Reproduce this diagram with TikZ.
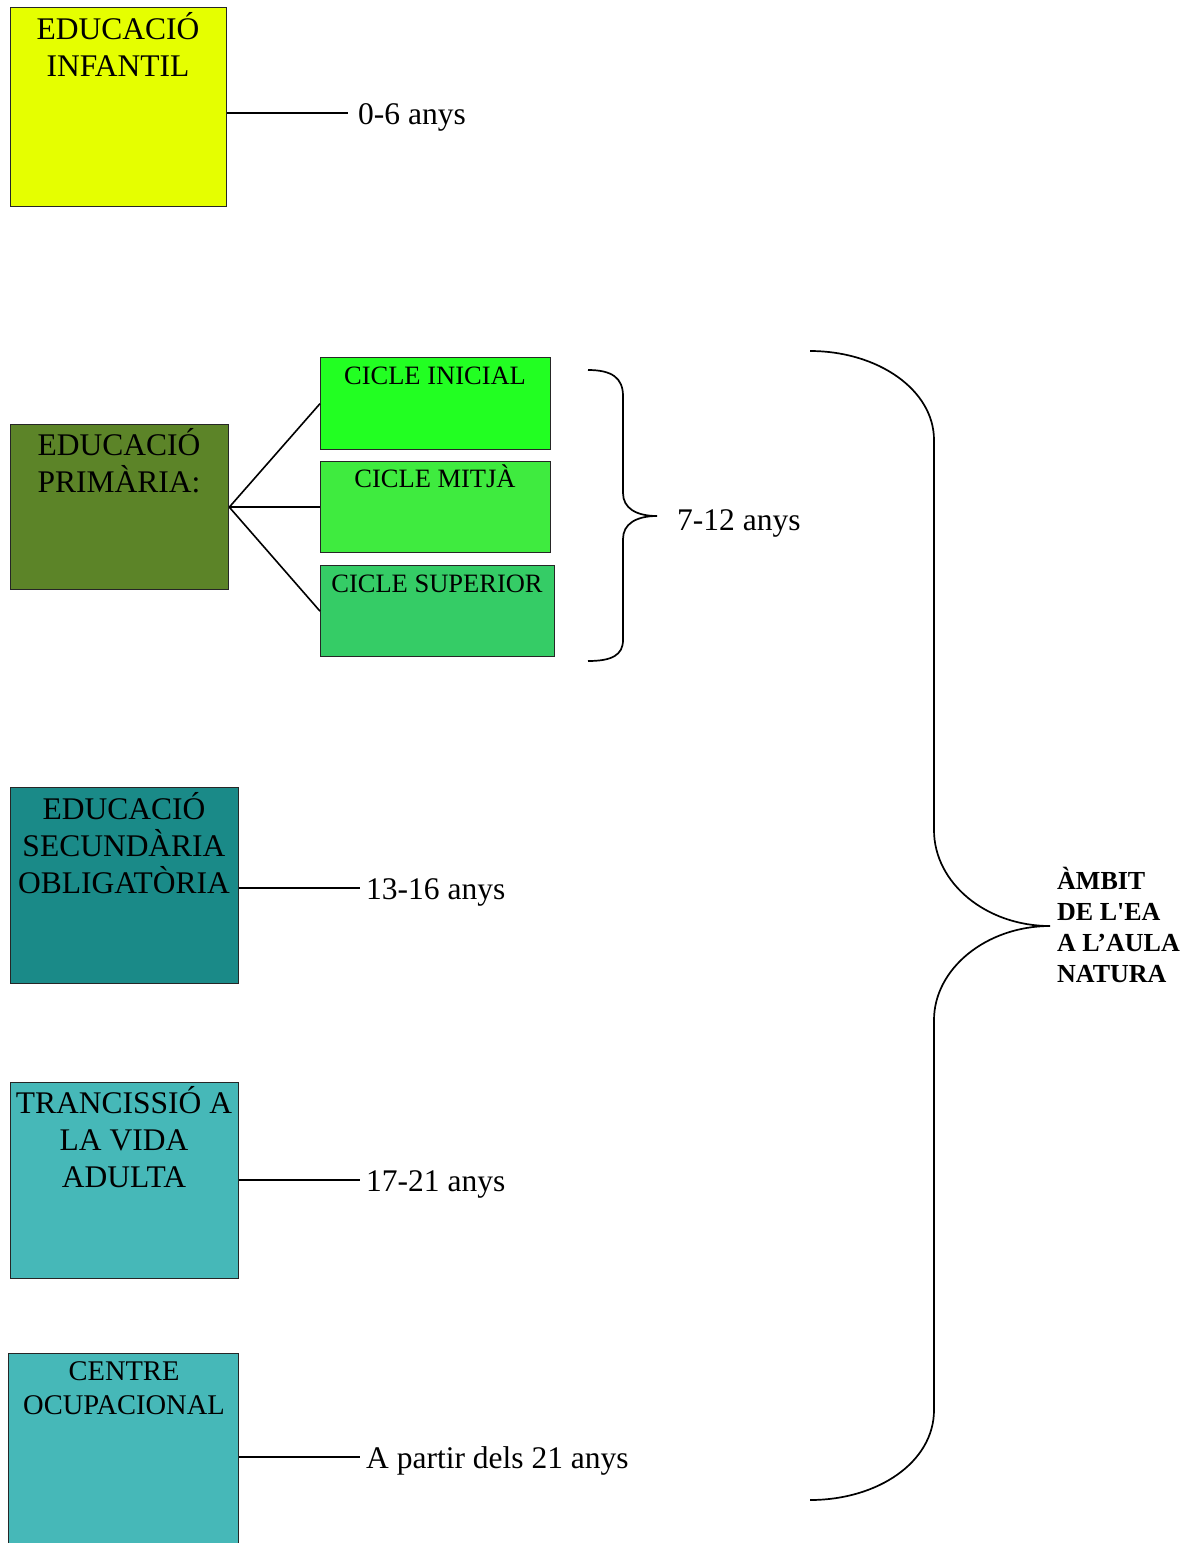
\documentclass[tikz,border=0pt]{standalone}
\usepackage{fontspec}
\setmainfont{Liberation Serif}
\definecolor{cInf}{HTML}{E5FF00}
\definecolor{cPrim}{HTML}{5C8428}
\definecolor{cIni}{HTML}{22FF22}
\definecolor{cMit}{HTML}{3FEB3F}
\definecolor{cSup}{HTML}{35CC66}
\definecolor{cSec}{HTML}{1A8A88}
\definecolor{cTeal}{HTML}{46B8B8}
\begin{document}
\begin{tikzpicture}[x=1pt,y=-1pt,
  box/.style={draw=black!85, line width=1.3pt, inner sep=0pt, anchor=north west},
  bigtext/.style={font=\fontsize{31.5}{37}\selectfont, align=center, anchor=base, inner sep=0pt},
  smalltext/.style={font=\fontsize{26.5}{31}\selectfont, anchor=base, inner sep=0pt},
  agelab/.style={font=\fontsize{31.5}{37}\selectfont, anchor=west, inner xsep=10pt, inner ysep=0pt, text height=28pt, text depth=6pt},
  conn/.style={line width=1.6pt},
  bracepath/.style={line width=1.7pt}]
\useasboundingbox (0,0) rectangle (1192,1543);
\clip (0,0) rectangle (1192,1543);

% Educacio infantil
\node[box, fill=cInf, minimum width=216pt, minimum height=199pt] (inf) at (10,7) {};
\node[bigtext] (inft) at (118,76) {EDUCACIÓ\\INFANTIL};
\node[agelab] (l06) at (348,113) {0-6 anys};
\draw[conn] (l06.west -| inf.east) -- (l06.west);

% Educacio primaria
\node[box, fill=cPrim, minimum width=218pt, minimum height=165pt] (prim) at (10,424) {};
\node[bigtext] (primt) at (119,492) {EDUCACIÓ\\PRIMÀRIA:};
\node[box, fill=cIni, minimum width=230pt, minimum height=92pt] (ini) at (320,357) {};
\node[box, fill=cMit, minimum width=230pt, minimum height=91pt] (mit) at (320,461) {};
\node[box, fill=cSup, minimum width=234pt, minimum height=91pt] (sup) at (320,565) {};
\node[smalltext] (init) at (435,384) {CICLE INICIAL};
\node[smalltext] (mitt) at (435,487) {CICLE MITJÀ};
\node[smalltext] (supt) at (437,592) {CICLE SUPERIOR};
\draw[conn] (prim.east) -- (ini.west);
\draw[conn] (prim.east) -- (mit.west);
\draw[conn] (prim.east) -- (sup.west);

% small brace
\coordinate (btip) at (657,516);
\draw[bracepath] (588,370) .. controls (612,370) and (623,378) .. (623,396) -- (623,493)
  .. controls (623,508) and (636,516) .. (btip)
  .. controls (636,516) and (623,524) .. (623,539) -- (623,640)
  .. controls (623,655) and (612,661) .. (588,661);
\node[font=\fontsize{31.5}{37}\selectfont, anchor=base west, inner sep=0pt] (l712) at (677,530) {7-12 anys};

% Secundaria
\node[box, fill=cSec, minimum width=228pt, minimum height=196pt] (sec) at (10,787) {};
\node[bigtext] (sect) at (124,893) {EDUCACIÓ\\SECUNDÀRIA\\OBLIGATÒRIA};
\node[agelab, inner xsep=6pt] (l1316) at (360,888) {13-16 anys};
\draw[conn] (l1316.west -| sec.east) -- (l1316.west);

% Transicio
\node[box, fill=cTeal, minimum width=228pt, minimum height=196pt] (tva) at (10,1082) {};
\node[bigtext] (tvat) at (124,1187) {TRANCISSIÓ A\\LA VIDA\\ADULTA};
\node[agelab, inner xsep=6pt] (l1721) at (360,1180) {17-21 anys};
\draw[conn] (l1721.west -| tva.east) -- (l1721.west);

% Centre ocupacional
\node[box, fill=cTeal, minimum width=230pt, minimum height=210pt] (co) at (8,1353) {};
\node[font=\fontsize{28.5}{34}\selectfont, align=center, anchor=base, inner sep=0pt] (cot) at (124,1414) {CENTRE\\OCUPACIONAL};
\node[agelab, inner xsep=6pt] (l21) at (360,1457) {A partir dels 21 anys};
\draw[conn] (l21.west -| co.east) -- (l21.west);

% big brace
\coordinate (Btip) at (1050,926);
\draw[bracepath] (810,351) .. controls (878,351) and (934,390) .. (934,440) -- (934,830)
  .. controls (934,883) and (986,926) .. (Btip)
  .. controls (986,926) and (934,969) .. (934,1020) -- (934,1410)
  .. controls (934,1462) and (878,1500) .. (810,1500);
\node[font=\bfseries\fontsize{26}{31}\selectfont, align=left, anchor=base west, inner sep=0pt] (ambit) at (1057,982)
  {ÀMBIT\\DE L\textquotesingle EA\\A L’AULA\\NATURA};
\end{tikzpicture}
\end{document}
